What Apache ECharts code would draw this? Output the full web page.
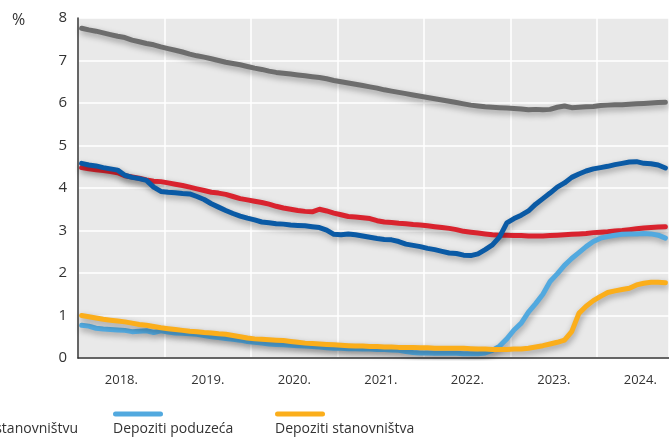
<!DOCTYPE html>
<html>
<head>
<meta charset="utf-8">
<script src="https://cdn.jsdelivr.net/npm/echarts@6/dist/echarts.min.js"></script>
<style>html,body{margin:0;padding:0;background:#fff}#c{width:669px;height:438px}</style>
</head>
<body>
<div id="c"></div>
<script>
// Monthly categories: Jan 2018 .. Oct 2024
const startYear = 2018;
const monthCount = 82;
const months = [];
for (let k = 0; k < monthCount; k++) {
  const y = startYear + Math.floor(k / 12), m = (k % 12) + 1;
  months.push(y + '-' + (m < 10 ? '0' + m : m));
}
const yearLabels = ['2018.', '2019.', '2020.', '2021.', '2022.', '2023.', '2024.'];

const seriesNames = ['Krediti stanovništvu', 'Krediti poduzećima', 'Stambeni krediti stanovništvu', 'Depoziti poduzeća', 'Depoziti stanovništva'];

const grayLoans = [
  7.76,7.72,7.69,7.65,7.61,7.57,7.54,7.48,7.44,7.40,7.37,7.32,
  7.28,7.24,7.20,7.15,7.11,7.08,7.04,7.00,6.96,6.93,6.90,6.86,
  6.82,6.79,6.75,6.72,6.70,6.68,6.66,6.64,6.62,6.60,6.57,6.53,
  6.50,6.47,6.44,6.41,6.38,6.35,6.31,6.28,6.25,6.22,6.19,6.16,
  6.13,6.10,6.07,6.04,6.01,5.98,5.95,5.93,5.91,5.90,5.89,5.88,
  5.87,5.86,5.84,5.85,5.84,5.85,5.90,5.93,5.89,5.90,5.91,5.92,
  5.94,5.95,5.96,5.96,5.97,5.98,5.99,6.00,6.01,6.02
];
const corpLoans = [
  4.58,4.54,4.52,4.48,4.45,4.42,4.30,4.25,4.22,4.18,4.02,3.92,
  3.90,3.89,3.87,3.86,3.80,3.73,3.63,3.55,3.47,3.40,3.34,3.29,
  3.25,3.20,3.18,3.16,3.15,3.13,3.12,3.11,3.09,3.07,3.01,2.91,
  2.90,2.92,2.90,2.87,2.84,2.81,2.79,2.78,2.74,2.68,2.65,2.62,
  2.58,2.55,2.51,2.47,2.46,2.42,2.41,2.45,2.55,2.66,2.85,3.18,
  3.28,3.36,3.46,3.62,3.75,3.88,4.02,4.12,4.25,4.33,4.40,4.45,
  4.48,4.51,4.55,4.58,4.61,4.62,4.58,4.57,4.54,4.47
];
const housingLoans = [
  4.48,4.45,4.43,4.41,4.39,4.36,4.29,4.26,4.23,4.19,4.16,4.15,
  4.12,4.09,4.06,4.02,3.98,3.94,3.90,3.88,3.85,3.80,3.75,3.72,
  3.69,3.66,3.62,3.57,3.53,3.50,3.47,3.45,3.44,3.50,3.46,3.41,
  3.37,3.33,3.32,3.30,3.28,3.23,3.20,3.19,3.17,3.16,3.14,3.13,
  3.11,3.09,3.07,3.05,3.02,2.98,2.96,2.94,2.92,2.90,2.89,2.89,
  2.88,2.88,2.87,2.87,2.87,2.88,2.89,2.90,2.91,2.92,2.93,2.95,
  2.96,2.97,2.99,3.00,3.02,3.04,3.06,3.07,3.08,3.09
];
const corpDeposits = [
  0.77,0.75,0.70,0.68,0.67,0.66,0.65,0.62,0.63,0.64,0.60,0.64,
  0.61,0.59,0.58,0.57,0.56,0.53,0.50,0.48,0.46,0.44,0.42,0.39,
  0.37,0.35,0.33,0.32,0.31,0.30,0.29,0.28,0.27,0.26,0.24,0.23,
  0.23,0.22,0.22,0.21,0.21,0.20,0.20,0.19,0.18,0.15,0.13,0.12,
  0.12,0.11,0.11,0.11,0.11,0.10,0.10,0.10,0.12,0.18,0.28,0.45,
  0.66,0.82,1.08,1.28,1.50,1.80,1.98,2.18,2.34,2.48,2.62,2.74,
  2.82,2.86,2.89,2.91,2.92,2.92,2.93,2.92,2.89,2.82
];
const hhDeposits = [
  1.00,0.97,0.94,0.91,0.89,0.87,0.85,0.82,0.79,0.77,0.74,0.71,
  0.69,0.67,0.65,0.63,0.62,0.60,0.59,0.57,0.56,0.53,0.50,0.47,
  0.45,0.44,0.43,0.42,0.41,0.39,0.37,0.35,0.34,0.33,0.32,0.31,
  0.30,0.29,0.28,0.28,0.27,0.27,0.26,0.26,0.25,0.25,0.25,0.24,
  0.24,0.23,0.23,0.23,0.23,0.23,0.22,0.21,0.21,0.20,0.20,0.20,
  0.21,0.21,0.23,0.26,0.29,0.33,0.37,0.42,0.62,1.05,1.22,1.35,
  1.45,1.54,1.58,1.61,1.64,1.72,1.76,1.78,1.78,1.77
];

const colors = ['#6d6d6d', '#0a5aa5', '#d9232e', '#52a9df', '#fbae1b'];
const FONT = '"Open Sans", "Noto Sans", sans-serif';

function lineSeries(name, data, color) {
  return {
    name: name, type: 'line', data: data, symbol: 'none', smooth: false,
    itemStyle: { color: color },
    lineStyle: {
      color: color, width: 5, cap: 'round', join: 'round',
      shadowColor: 'rgba(0,0,0,0.35)', shadowBlur: 6, shadowOffsetX: 1, shadowOffsetY: 3
    }
  };
}

function legendItem(name, color, pos) {
  return Object.assign({
    data: [name], top: 408, icon: 'rect', itemWidth: 0, itemHeight: 0, itemGap: 0,
    padding: 0, selectedMode: false,
    formatter: function (n) { return '{m| }\n{t|' + n + '}'; },
    textStyle: {
      fontFamily: FONT,
      rich: {
        m: { width: 50, height: 5, lineHeight: 8, backgroundColor: color, borderRadius: 3 },
        t: { fontSize: 14, color: '#333', fontFamily: FONT, lineHeight: 22 }
      }
    }
  }, pos);
}

const chart = echarts.init(document.getElementById('c'), null, { renderer: 'canvas' });
chart.setOption({
  animation: false,
  backgroundColor: '#fff',
  title: { text: '%', left: 7, top: 7, textStyle: { fontFamily: FONT, fontSize: 16, fontWeight: 'normal', color: '#333' } },
  grid: { left: 78, right: 0, top: 18, bottom: 80, show: true, backgroundColor: '#e9e9e9', borderWidth: 0 },
  legend: [
    legendItem(seriesNames[0], colors[0], { right: 591 }),
    legendItem(seriesNames[3], colors[3], { left: 108 }),
    legendItem(seriesNames[4], colors[4], { left: 270 })
  ],
  xAxis: {
    type: 'category', data: months, boundaryGap: true,
    axisLine: { show: true, lineStyle: { color: '#333', width: 1.5 } },
    axisTick: { show: false },
    splitLine: { show: true, interval: function (i) { return i % 12 === 0; }, lineStyle: { color: '#fff', width: 1.5 } },
    axisLabel: {
      interval: function (i) { return i % 12 === 6; },
      formatter: function (v, i) { return yearLabels[Math.floor(i / 12)]; },
      color: '#333', fontSize: 13, fontFamily: FONT, margin: 16, padding: [0, 7, 0, 0]
    }
  },
  yAxis: {
    type: 'value', min: 0, max: 8, interval: 1,
    axisLine: { show: true, lineStyle: { color: '#333', width: 1.5 } },
    axisTick: { show: false },
    splitLine: { show: true, lineStyle: { color: '#fff', width: 1.5 } },
    axisLabel: { color: '#333', fontSize: 15, fontFamily: FONT, margin: 11 }
  },
  series: [
    lineSeries(seriesNames[0], grayLoans, colors[0]),
    lineSeries(seriesNames[2], housingLoans, colors[2]),
    lineSeries(seriesNames[1], corpLoans, colors[1]),
    lineSeries(seriesNames[3], corpDeposits, colors[3]),
    lineSeries(seriesNames[4], hhDeposits, colors[4])
  ]
});
</script>
</body>
</html>
